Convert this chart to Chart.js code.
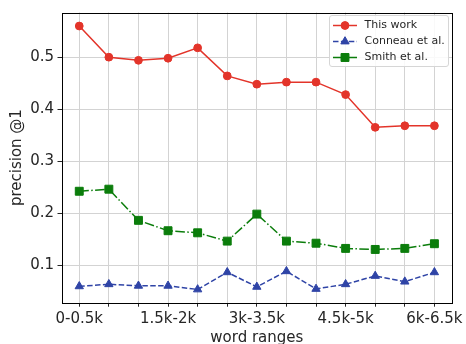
<!DOCTYPE html>
<html>
<head>
<meta charset="utf-8">
<script src="https://cdn.jsdelivr.net/npm/chart.js@4"></script>
<style>
  html, body { margin: 0; padding: 0; background: #fff; }
  #wrap { width: 466px; height: 344px; }
</style>
</head>
<body>
<div id="wrap"><canvas id="c" width="466" height="344"></canvas></div>
<script>
// Word-frequency buckets (0.5k words each)
const categories = ['0-0.5k', '0.5k-1k', '1k-1.5k', '1.5k-2k', '2k-2.5k', '2.5k-3k', '3k-3.5k',
                    '3.5k-4k', '4k-4.5k', '4.5k-5k', '5k-5.5k', '5.5k-6k', '6k-6.5k'];
const thisWork = [0.560, 0.500, 0.494, 0.498, 0.518, 0.464, 0.448, 0.452, 0.452, 0.428, 0.365, 0.368, 0.368];
const conneau  = [0.059, 0.063, 0.060, 0.060, 0.053, 0.086, 0.058, 0.088, 0.054, 0.063, 0.079, 0.068, 0.086];
const smith    = [0.242, 0.246, 0.186, 0.166, 0.162, 0.146, 0.198, 0.146, 0.142, 0.132, 0.130, 0.132, 0.141];
const yTicks   = [0.1, 0.2, 0.3, 0.4, 0.5];
const labelEvery = 3;

const FONT = "'DejaVu Sans', sans-serif";
const RED = '#e3342a', BLUE = '#2f44a6', GREEN = '#0b7d0b';

const toPoints = arr => arr.map((v, i) => ({ x: i, y: v }));

const series = [
  { label: 'This work',      data: thisWork, color: RED,   style: 'circle',   radius: 3.9, dash: [] },
  { label: 'Conneau et al.', data: conneau,  color: BLUE,  style: 'triangle', radius: 4.8, dash: [5.5, 2.4] },
  { label: 'Smith et al.',   data: smith,    color: GREEN, style: 'rect',     radius: 5.6, dash: [9.6, 2.4, 1.5, 2.4] }
];

// Full black frame around the plot + matplotlib-like legend box
const framePlugin = {
  id: 'frameAndLegend',
  afterDraw(chart) {
    const { ctx, chartArea: a } = chart;
    ctx.save();
    ctx.strokeStyle = '#000';
    ctx.lineWidth = 1;
    ctx.strokeRect(Math.round(a.left) + 0.5, Math.round(a.top) + 0.5,
                   Math.round(a.right - a.left) - 1, Math.round(a.bottom - a.top));

    // legend
    const bx = 329.5, by = 15.5, bw = 119, bh = 51;
    ctx.fillStyle = 'rgba(255,255,255,0.85)';
    ctx.strokeStyle = '#d6d6d6';
    ctx.beginPath();
    ctx.roundRect(bx, by, bw, bh, 2.5);
    ctx.fill();
    ctx.stroke();
    chart.data.datasets.forEach((ds, i) => {
      const y = 25.5 + i * 16;
      ctx.save();
      ctx.strokeStyle = ds.borderColor;
      ctx.lineWidth = 1.5;
      ctx.setLineDash(ds.borderDash || []);
      ctx.beginPath();
      ctx.moveTo(333, y);
      ctx.lineTo(357, y);
      ctx.stroke();
      ctx.restore();
      ctx.fillStyle = ds.pointBackgroundColor;
      ctx.strokeStyle = ds.pointBorderColor;
      Chart.helpers.drawPoint(ctx, {
        pointStyle: ds.pointStyle, radius: ds.pointRadius, borderWidth: 1, rotation: 0
      }, 345, y);
      ctx.fillStyle = '#262626';
      ctx.font = '11px ' + FONT;
      ctx.textBaseline = 'middle';
      ctx.textAlign = 'left';
      ctx.fillText(ds.label, 364.5, y);
    });
    ctx.restore();
  }
};

new Chart(document.getElementById('c'), {
  type: 'line',
  data: {
    datasets: series.map(s => ({
      label: s.label,
      data: toPoints(s.data),
      borderColor: s.color,
      backgroundColor: s.color,
      pointBackgroundColor: s.color,
      pointBorderColor: s.color,
      pointStyle: s.style,
      pointRadius: s.radius,
      pointBorderWidth: 1,
      borderWidth: 1.5,
      borderDash: s.dash,
      tension: 0,
      fill: false
    }))
  },
  options: {
    responsive: false,
    animation: false,
    devicePixelRatio: 1,
    layout: { padding: { top: 10, right: 11, left: 0, bottom: 0 } },
    plugins: { legend: { display: false }, tooltip: { enabled: false } },
    scales: {
      x: {
        type: 'linear',
        min: -0.6,
        max: 12.6,
        afterBuildTicks: s => { s.ticks = categories.map((_, i) => ({ value: i })); },
        afterFit: s => { s.height = 41.3; },
        ticks: {
          autoSkip: false,
          maxRotation: 0,
          padding: 3,
          color: '#262626',
          font: { family: FONT, size: 15 },
          callback: v => (v % labelEvery === 0 ? categories[v] : '')
        },
        grid: { color: '#d3d3d3', lineWidth: 1, tickLength: 4, tickColor: '#262626' },
        border: { display: false },
        title: {
          display: true, text: 'word ranges', color: '#262626',
          font: { family: FONT, size: 15 }, padding: { top: 0, bottom: -3.5 }
        }
      },
      y: {
        min: 0.0275,
        max: 0.586,
        afterBuildTicks: s => { s.ticks = yTicks.map(v => ({ value: v })); },
        afterFit: s => { s.width = 61.5; },
        ticks: {
          padding: 3.5,
          color: '#262626',
          font: { family: FONT, size: 15 },
          callback: v => v.toFixed(1)
        },
        grid: { color: '#d3d3d3', lineWidth: 1, tickLength: 4, tickColor: '#262626' },
        border: { display: false },
        title: {
          display: true, text: 'precision @1', color: '#262626',
          font: { family: FONT, size: 15 }, padding: { top: 8, bottom: 0 }
        }
      }
    }
  },
  plugins: [framePlugin]
});
</script>
</body>
</html>
